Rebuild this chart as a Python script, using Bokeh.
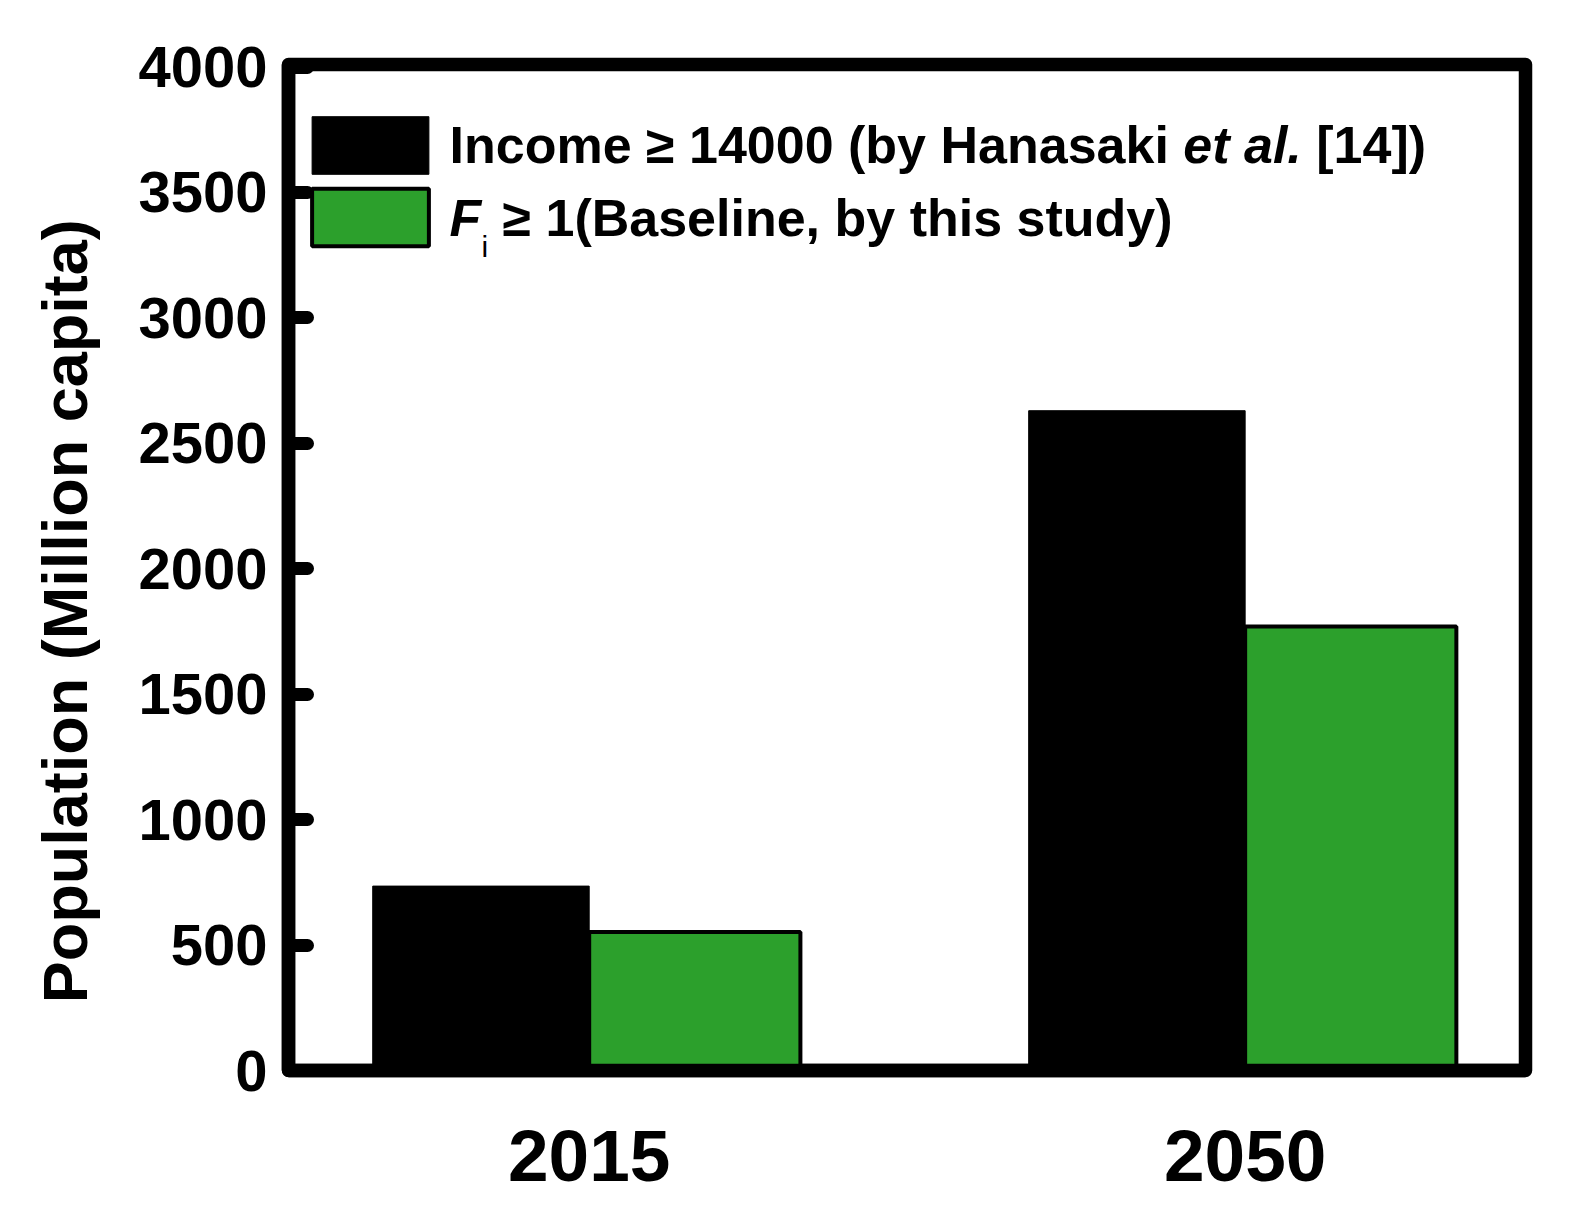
import numpy as np
from bokeh.plotting import figure
from bokeh.models import (Range1d, FixedTicker, Label, Legend, LegendItem,
                          ColumnDataSource)
from bokeh.embed import file_html
from bokeh.resources import INLINE

# ---------------- data ----------------
years = ["2015", "2050"]
income_pop = [735, 2630]      # Income >= 14000 (Hanasaki et al.)
fi_pop = [552, 1770]          # Fi >= 1 (Baseline, this study)
y_ticks = [0, 500, 1000, 1500, 2000, 2500, 3000, 3500, 4000]

legend_income = ["Income \u2265 14000 (by Hanasaki", "et al.", "[14])"]
legend_fi = ["F", "i", "\u2265 1(Baseline, by this study)"]
y_label = "Population (Million capita)"

# ---------------- layout ----------------
FONT = "Liberation Sans"
W, H = 1572, 1195
ML, MR, MT, MB = 288, 47, 64, 125

xpos = np.arange(len(years))
bw_inc = 0.330
bw_fi = 0.322
src = ColumnDataSource(dict(
    x_inc=xpos - bw_inc / 2,
    x_fi=xpos + bw_fi / 2,
    inc=income_pop,
    fi=fi_pop,
))

p = figure(width=W, height=H, output_backend="svg", toolbar_location=None,
           x_range=Range1d(-0.4584, 1.4274), y_range=Range1d(0, 4010),
           min_border_left=ML, min_border_right=MR,
           min_border_top=MT, min_border_bottom=MB)

r_inc = p.vbar(x="x_inc", top="inc", bottom=0, width=bw_inc, source=src,
               fill_color="black", line_color="black", line_width=1)
r_fi = p.vbar(x="x_fi", top="fi", bottom=0, width=bw_fi, source=src,
              fill_color="#2ca02c", line_color="black", line_width=4)

# frame
p.outline_line_color = "black"
p.outline_line_width = 13.5
p.outline_line_join = "round"
p.background_fill_color = "white"
p.border_fill_color = "white"
p.xgrid.visible = False
p.ygrid.visible = False

# x axis
p.xaxis.ticker = FixedTicker(ticks=[float(v) for v in xpos])
p.xaxis.major_label_overrides = {float(v): lab for v, lab in zip(xpos, years)}
p.xaxis.major_tick_in = 0
p.xaxis.major_tick_out = 0
p.xaxis.minor_tick_line_color = None
p.xaxis.axis_line_width = 13.5
p.xaxis.axis_line_color = "black"
p.xaxis.major_label_text_font = FONT
p.xaxis.major_label_text_font_style = "bold"
p.xaxis.major_label_text_font_size = "73px"
p.xaxis.major_label_text_color = "black"
p.xaxis.major_label_standoff = 60

# y axis
p.yaxis.ticker = FixedTicker(ticks=y_ticks)
p.yaxis.major_tick_in = 19
p.yaxis.major_tick_out = 0
p.yaxis.major_tick_line_width = 13
p.yaxis.major_tick_line_cap = "round"
p.yaxis.major_tick_line_color = "black"
p.yaxis.minor_tick_line_color = None
p.yaxis.axis_line_width = 13.5
p.yaxis.axis_line_color = "black"
p.yaxis.major_label_text_font = FONT
p.yaxis.major_label_text_font_style = "bold"
p.yaxis.major_label_text_font_size = "58px"
p.yaxis.major_label_text_color = "black"
p.yaxis.major_label_standoff = 21
# trailing no-break spaces shift the centred title slightly downward,
# as in the reference
p.yaxis.axis_label = y_label + "\u00a0" * 5
p.yaxis.axis_label_text_font = FONT
p.yaxis.axis_label_text_font_style = "bold"
p.yaxis.axis_label_text_font_size = "63px"
p.yaxis.axis_label_text_color = "black"
p.yaxis.axis_label_standoff = 35

# legend swatches
legend = Legend(items=[LegendItem(label=" ", renderers=[r_inc]),
                       LegendItem(label=" ", renderers=[r_fi])],
                location=(9, 817), glyph_width=146, glyph_height=72,
                spacing=0, padding=0, margin=0, label_width=0,
                label_standoff=0, label_text_font_size="10px",
                border_line_color=None, background_fill_alpha=0)
p.add_layout(legend, "center")

# legend texts
fs = 52
x_a = 161
x_b = x_a + 14.111 * fs
x_c = x_b + (2.279 + 0.278) * fs
y1, y2, y_sub = 926, 853, 824
for txt, xx, style in [(legend_income[0], x_a, "bold"),
                       (legend_income[1], x_b, "bold italic"),
                       (legend_income[2], x_c, "bold")]:
    p.add_layout(Label(x=xx, y=y1, x_units="screen", y_units="screen",
                       text=txt, text_font=FONT, text_font_style=style,
                       text_font_size=f"{fs}px", text_baseline="alphabetic",
                       text_align="left", text_color="black"))

p.add_layout(Label(x=161, y=y2, x_units="screen", y_units="screen",
                   text=legend_fi[0], text_font=FONT,
                   text_font_style="bold italic", text_font_size=f"{fs}px",
                   text_baseline="alphabetic", text_color="black"))
p.add_layout(Label(x=193, y=y_sub, x_units="screen", y_units="screen",
                   text=legend_fi[1], text_font=FONT, text_font_style="normal",
                   text_font_size="30px", text_baseline="alphabetic",
                   text_color="black"))
p.add_layout(Label(x=214, y=y2, x_units="screen", y_units="screen",
                   text=legend_fi[2], text_font=FONT, text_font_style="bold",
                   text_font_size=f"{fs}px", text_baseline="alphabetic",
                   text_color="black"))

open("out.html", "w").write(file_html(p, INLINE))
